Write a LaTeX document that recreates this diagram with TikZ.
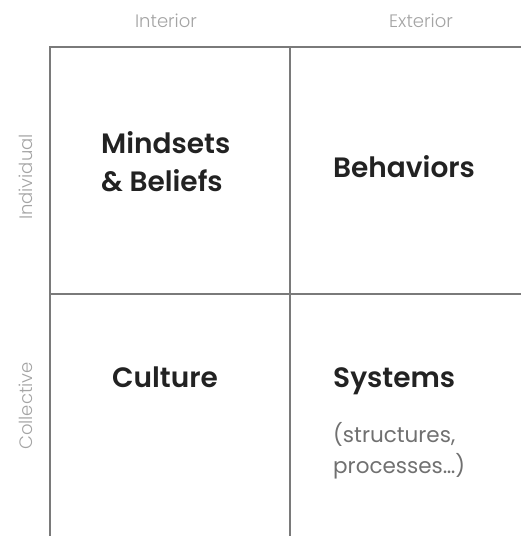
\documentclass[tikz,border=0pt]{standalone}
\usepackage{fontspec}
\setmainfont{Poppins}[BoldFont={Poppins SemiBold}]
\newfontfamily\axisfont{Poppins Light}
\definecolor{gridline}{HTML}{7A7A7A}
\definecolor{axislabel}{HTML}{A4A4A4}
\definecolor{title}{HTML}{222222}
\definecolor{subtitle}{HTML}{707070}
\begin{document}
\begin{tikzpicture}[x=1pt,y=-1pt,
  grid/.style={draw=gridline,line width=2.6pt},
  axis/.style={text=axislabel,font=\axisfont\fontsize{18}{20}\selectfont,inner sep=0pt},
  quad/.style={text=title,font=\fontsize{28}{38}\selectfont\bfseries,align=left,inner sep=0pt,anchor=base west},
  note/.style={text=subtitle,font=\fontsize{21.5}{31}\selectfont,align=left,inner sep=0pt,anchor=base west}]
  \useasboundingbox (0,0) rectangle (521,536);
  % frame and dividers
  \coordinate (tl) at (50,47);
  \coordinate (tr) at (521,47);
  \coordinate (bl) at (50,536);
  \coordinate (tm) at (290,47);
  \coordinate (bm) at (290,536);
  \coordinate (ml) at (50,294);
  \coordinate (mr) at (521,294);
  \draw[grid] (tr) -- (tl) -- (bl);
  \draw[grid] (tm) -- (bm);
  \draw[grid] (ml) -- (mr);
  % axis labels
  \node[axis] (interior) at (166,21) {Interior};
  \node[axis] (exterior) at (421,21) {Exterior};
  \node[axis,rotate=90] (individual) at (26,177) {Individual};
  \node[axis,rotate=90] (collective) at (26,406) {Collective};
  % quadrant titles (multi-line nodes sit on the baseline of their last line)
  \node[quad] (mindsets) at (101,191) {Mindsets\\\& Beliefs};
  \node[quad] (behaviors) at (333,177) {Behaviors};
  \node[quad] (culture) at (112,387) {Culture};
  \node[quad] (systems) at (333,387) {Systems};
  \node[note] (systemsnote) at (333,473) {(structures,\\processes\dots)};
\end{tikzpicture}
\end{document}
